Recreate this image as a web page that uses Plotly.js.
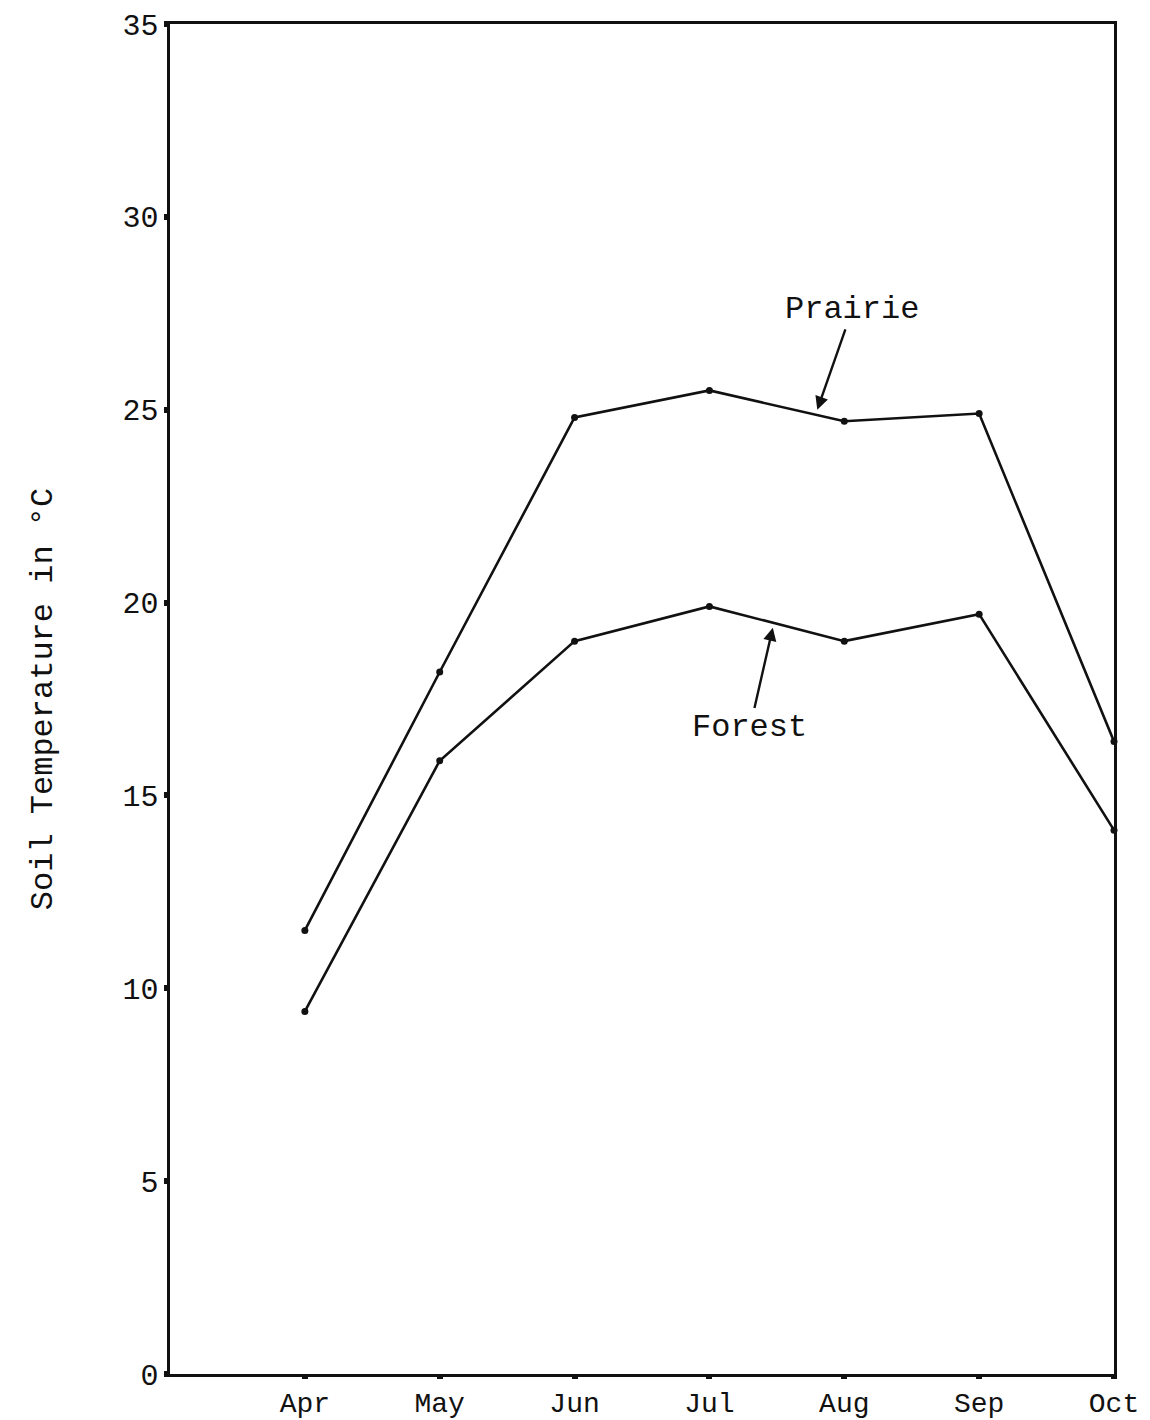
<!DOCTYPE html>
<html>
<head>
<meta charset="utf-8">
<script src="https://cdn.plot.ly/plotly-3.0.1.min.js"></script>
<style>body{margin:0;background:#fff;}#chart{width:1150px;height:1420px;}</style>
</head>
<body>
<div id="chart"></div>
<script>
// Data
const months = ['Apr', 'May', 'Jun', 'Jul', 'Aug', 'Sep', 'Oct'];
const monthIndex = [1, 2, 3, 4, 5, 6, 7];
const prairie = [11.5, 18.2, 24.8, 25.5, 24.7, 24.9, 16.4];
const forest = [9.4, 15.9, 19.0, 19.9, 19.0, 19.7, 14.1];
const yTicks = [0, 5, 10, 15, 20, 25, 30, 35];

const font = 'Liberation Mono, Courier New, monospace';

const lineStyle = {color: '#111', width: 2.6};
const markerStyle = {color: '#111', size: 7};

const traces = [
  {x: monthIndex, y: prairie, name: 'Prairie', mode: 'lines+markers', line: lineStyle, marker: markerStyle, cliponaxis: false},
  {x: monthIndex, y: forest, name: 'Forest', mode: 'lines+markers', line: lineStyle, marker: markerStyle, cliponaxis: false}
];

const layout = {
  width: 1150, height: 1420,
  margin: {l: 170, r: 36, t: 24, b: 46},
  paper_bgcolor: '#fff', plot_bgcolor: '#fff',
  showlegend: false,
  font: {family: font, color: '#111', size: 28},
  xaxis: {
    range: [0, 7], tickvals: monthIndex, ticktext: months,
    showgrid: false, zeroline: false,
    showline: true, mirror: true, linecolor: '#111', linewidth: 2.6,
    ticks: 'outside', ticklen: 2, tickwidth: 6, tickcolor: '#111',
    tickfont: {family: font, size: 28, color: '#111'}
  },
  yaxis: {
    range: [0, 35], tickvals: yTicks,
    showgrid: false, zeroline: false,
    showline: true, mirror: true, linecolor: '#111', linewidth: 2.6,
    ticks: 'outside', ticklen: 3, tickwidth: 6, tickcolor: '#111',
    tickfont: {family: font, size: 30, color: '#111'},
    title: {text: 'Soil Temperature in °C', font: {family: font, size: 32, color: '#111'}, standoff: 60}
  },
  annotations: [
    {x: 4.8, y: 25.0, xref: 'x', yref: 'y', ax: 5.06, ay: 27.6, axref: 'x', ayref: 'y',
     text: 'Prairie', showarrow: true, arrowhead: 2, arrowsize: 1.1, arrowwidth: 2.4, arrowcolor: '#111',
     font: {family: font, size: 32, color: '#111'}},
    {x: 4.47, y: 19.35, xref: 'x', yref: 'y', ax: 4.3, ay: 16.75, axref: 'x', ayref: 'y',
     text: 'Forest', showarrow: true, arrowhead: 2, arrowsize: 1.1, arrowwidth: 2.4, arrowcolor: '#111',
     font: {family: font, size: 32, color: '#111'}}
  ]
};

Plotly.newPlot('chart', traces, layout, {displayModeBar: false, staticPlot: true});
</script>
</body>
</html>
